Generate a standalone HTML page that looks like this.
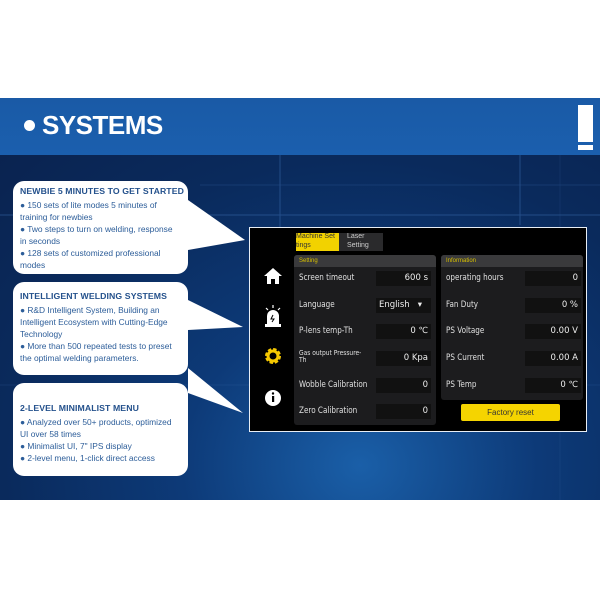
<!DOCTYPE html><html><head><style>
*{margin:0;padding:0;box-sizing:border-box}
body{width:600px;height:600px;background:#fff;position:relative;overflow:hidden;font-family:"Liberation Sans",sans-serif}
.abs{position:absolute}
.bg{left:0;top:155px;width:600px;height:345px;background:radial-gradient(ellipse at 60% 90%,#1a5fa8 0%,#0d3a78 35%,#0a2a5c 70%,#0a2350 100%)}
.hdr{left:0;top:98px;width:600px;height:57px;background:linear-gradient(#1a5aa6,#1b5fae)}
.bub{background:#fff;border-radius:11px;color:#2c5d99;font-size:8.4px;line-height:12px;padding:4px 4px 0 7px;white-space:nowrap}
.bub b{display:block;font-size:8.7px;color:#24518c;margin-bottom:2px;letter-spacing:.1px}
.scr{left:249px;top:227px;width:338px;height:205px;background:#000;border:1.5px solid #e8eef5}
.pan{background:#1c1c1e;border-radius:3px}
.ph{height:12px;background:#3a3a3c;color:#d8c000;font-size:6px;line-height:12px;padding-left:5px;border-radius:3px 3px 0 0}
.lbl{color:#e0e0e0;font-size:8.5px;font-family:"DejaVu Sans",sans-serif;transform:scaleX(.85);transform-origin:left;white-space:nowrap}
.val{background:#111;color:#eee;font-size:8.5px;text-align:right;padding-right:3px;height:15px;line-height:15px;font-family:"DejaVu Sans",sans-serif}
</style></head><body>
<div class="abs hdr"></div>
<div class="abs" style="left:24px;top:120px;width:11px;height:11px;border-radius:50%;background:#fff"></div>
<div class="abs" style="left:42px;top:110px;color:#fff;font-weight:bold;font-size:26px;letter-spacing:-.5px">SYSTEMS</div>
<div class="abs" style="left:578px;top:105px;width:15px;height:37px;background:#fff"></div>
<div class="abs" style="left:578px;top:145px;width:15px;height:5px;background:#fff"></div>
<div class="abs bg"></div>
<svg class="abs" style="left:0;top:155px" width="600" height="345">
<g stroke="#3d6fb0" stroke-width="1" opacity=".5">
<line x1="0" y1="60" x2="600" y2="60"/><line x1="280" y1="0" x2="280" y2="80"/><line x1="520" y1="0" x2="520" y2="70"/><line x1="0" y1="230" x2="600" y2="230" opacity=".4"/>
<line x1="200" y1="30" x2="600" y2="30" opacity=".5"/><line x1="560" y1="0" x2="560" y2="345" opacity=".3"/>
</g>
<polygon points="188,213 243,258 188,238" fill="#fff"/>
<polygon points="188,145 243,172 188,175" fill="#fff"/>
<polygon points="188,45 245,85 188,95" fill="#fff"/>
</svg>
<div class="abs bub" style="left:13px;top:181px;width:175px;height:93px"><b>NEWBIE 5 MINUTES TO GET STARTED</b>● 150 sets of lite modes 5 minutes of<br>training for newbies<br>● Two steps to turn on welding, response<br>in seconds<br>● 128 sets of customized professional<br>modes</div>
<div class="abs bub" style="left:13px;top:282px;width:175px;height:93px;padding-top:8px"><b>INTELLIGENT WELDING SYSTEMS</b>● R&amp;D Intelligent System, Building an<br>Intelligent Ecosystem with Cutting-Edge<br>Technology<br>● More than 500 repeated tests to preset<br>the optimal welding parameters.</div>
<div class="abs bub" style="left:13px;top:383px;width:175px;height:93px;padding-top:19px"><b>2-LEVEL MINIMALIST MENU</b>● Analyzed over 50+ products, optimized<br>UI over 58 times<br>● Minimalist UI, 7" IPS display<br>● 2-level menu, 1-click direct access</div>

<div class="abs scr"></div>
<div class="abs" style="left:296px;top:233px;width:43px;height:18px;background:#f2d200;color:#333;font-size:7px;line-height:8.5px;overflow:hidden;white-space:nowrap">Machine Set<br>tings</div>
<div class="abs" style="left:339px;top:233px;width:44px;height:18px;background:#2a2a2c;color:#ccc;font-size:7px;line-height:8.5px;padding-left:8px">Laser<br>Setting</div>
<div class="abs pan" style="left:294px;top:255px;width:142px;height:170px"><div class="ph">Setting</div></div>
<div class="abs pan" style="left:441px;top:255px;width:142px;height:145px"><div class="ph">Information</div></div>
<div class="abs" style="left:461px;top:404px;width:99px;height:17px;background:#f5d400;border-radius:2px;color:#333;font-size:8px;text-align:center;line-height:17px">Factory reset</div>
<div class="abs lbl" style="left:299px;top:273px">Screen timeout</div>
<div class="abs lbl" style="left:299px;top:300px">Language</div>
<div class="abs lbl" style="left:299px;top:326px">P-lens temp-Th</div>
<div class="abs lbl" style="left:299px;top:350px;font-size:7px;line-height:7px">Gas output Pressure-<br>Th</div>
<div class="abs lbl" style="left:299px;top:380px">Wobble Calibration</div>
<div class="abs lbl" style="left:299px;top:406px">Zero Calibration</div>
<div class="abs val" style="left:376px;top:271px;width:55px">600 s</div>
<div class="abs val" style="left:376px;top:298px;width:55px;text-align:left;padding-left:3px">English &nbsp;&nbsp;▾</div>
<div class="abs val" style="left:376px;top:324px;width:55px">0 ℃</div>
<div class="abs val" style="left:376px;top:351px;width:55px">0 Kpa</div>
<div class="abs val" style="left:376px;top:378px;width:55px">0</div>
<div class="abs val" style="left:376px;top:404px;width:55px">0</div>
<div class="abs lbl" style="left:446px;top:273px">operating hours</div>
<div class="abs lbl" style="left:446px;top:300px">Fan Duty</div>
<div class="abs lbl" style="left:446px;top:326px">PS Voltage</div>
<div class="abs lbl" style="left:446px;top:353px">PS Current</div>
<div class="abs lbl" style="left:446px;top:380px">PS Temp</div>
<div class="abs val" style="left:525px;top:271px;width:56px">0</div>
<div class="abs val" style="left:525px;top:298px;width:56px">0 %</div>
<div class="abs val" style="left:525px;top:324px;width:56px">0.00 V</div>
<div class="abs val" style="left:525px;top:351px;width:56px">0.00 A</div>
<div class="abs val" style="left:525px;top:378px;width:56px">0 ℃</div>
<svg class="abs" style="left:262px;top:266px" width="22" height="145">
<path d="M11 2 L20 10 H17 V18 H13 V13 H9 V18 H5 V10 H2 Z" fill="#fff"/>
<path d="M5 58 V50 a6 6 0 0 1 12 0 V58 Z M3 58 H19 V61 H3Z" fill="#fff"/><path d="M11 49 l-2 4 h3 l-2 3" stroke="#000" fill="none"/>
<g stroke="#fff" stroke-width="1.2"><line x1="11" y1="39" x2="11" y2="42"/><line x1="4" y1="42" x2="6" y2="44"/><line x1="18" y1="42" x2="16" y2="44"/></g>
<circle cx="11" cy="90" r="6" fill="none" stroke="#f5c800" stroke-width="4" stroke-dasharray="3 1.7"/><circle cx="11" cy="90" r="5" fill="none" stroke="#f5c800" stroke-width="3"/>
<circle cx="11" cy="132" r="8" fill="#fff"/><rect x="10" y="130" width="2.2" height="6" fill="#000"/><circle cx="11" cy="127.5" r="1.2" fill="#000"/>
</svg>
</body></html>
